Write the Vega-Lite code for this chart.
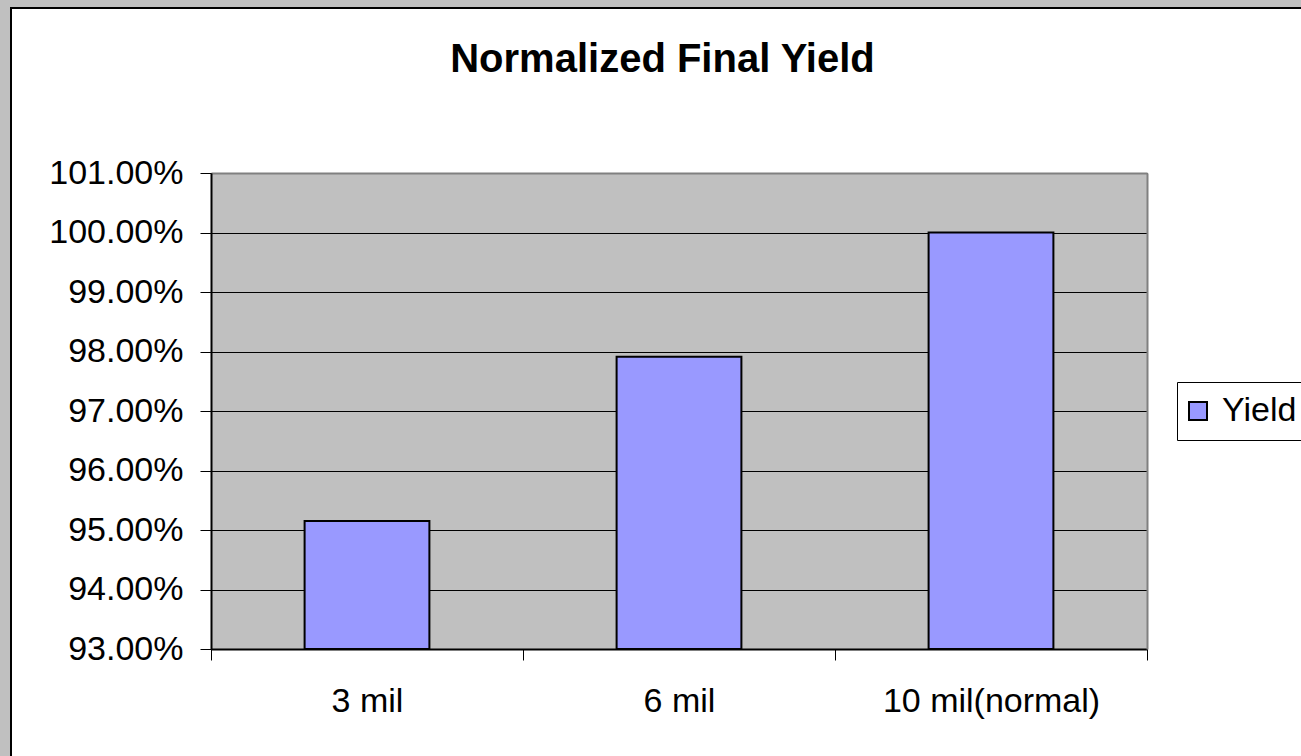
{
  "$schema": "https://vega.github.io/schema/vega-lite/v6.json",
  "width": 1303,
  "height": 760,
  "autosize": {"type": "none"},
  "padding": {"left": 11, "top": 8, "right": -13, "bottom": -12},
  "background": "#c0c0c0",
  "view": {"fill": "white", "stroke": "black", "strokeWidth": 2},
  "config": {"font": "Liberation Sans"},
  "title": {
    "text": "Normalized Final Yield",
    "font": "Liberation Sans",
    "fontSize": 40,
    "fontWeight": "bold",
    "color": "black",
    "anchor": "middle",
    "frame": "group",
    "offset": -72
  },
  "data": {
    "values": [
      {"size": "3 mil", "yield": 0.9515},
      {"size": "6 mil", "yield": 0.9791},
      {"size": "10 mil(normal)", "yield": 1.0}
    ]
  },
  "layer": [
    {
      "mark": {"type": "bar", "width": {"band": 0.4}, "stroke": "black", "strokeWidth": 2},
      "encoding": {
        "x": {
          "field": "size",
          "type": "nominal",
          "sort": null,
          "title": null,
          "scale": {"range": [200, 1136], "paddingInner": 0, "paddingOuter": 0},
          "axis": {
            "orient": "bottom",
            "offset": -119,
            "tickBand": "extent",
            "tickSize": 11,
            "tickColor": "black",
            "tickWidth": 1,
            "domainColor": "black",
            "domainWidth": 2,
            "labelAngle": 0,
            "labelFont": "Liberation Sans",
            "labelFontSize": 34,
            "labelColor": "black",
            "labelPadding": 24,
            "labelLimit": 0,
            "grid": false
          }
        },
        "y": {
          "field": "yield",
          "type": "quantitative",
          "title": null,
          "scale": {"domain": [0.93, 1.01], "range": [641, 165], "nice": false, "zero": false},
          "axis": {
            "orient": "left",
            "offset": -200,
            "values": [0.93, 0.94, 0.95, 0.96, 0.97, 0.98, 0.99, 1.0, 1.01],
            "format": ".2%",
            "tickSize": 11,
            "tickColor": "black",
            "tickWidth": 1,
            "domainColor": "black",
            "domainWidth": 2,
            "labelFont": "Liberation Sans",
            "labelFontSize": 34,
            "labelColor": "black",
            "labelPadding": 17,
            "labelLimit": 0,
            "grid": true,
            "gridColor": "black",
            "gridWidth": 1,
            "gridOpacity": 1
          }
        },
        "y2": {"datum": 0.93},
        "fill": {
          "datum": "Yield",
          "type": "nominal",
          "scale": {"range": ["#9999ff"]},
          "legend": {
            "title": null,
            "orient": "none",
            "legendX": 1166,
            "legendY": 374,
            "padding": 12,
            "strokeColor": "black",
            "fillColor": "white",
            "symbolType": "square",
            "symbolSize": 324,
            "symbolOffset": -8,
            "symbolStrokeColor": "black",
            "symbolStrokeWidth": 2,
            "symbolOpacity": 1,
            "labelFont": "Liberation Sans",
            "labelFontSize": 34,
            "labelColor": "black",
            "labelOffset": 7,
            "labelLimit": 0
          }
        }
      }
    },
    {
      "mark": {"type": "point", "opacity": 0},
      "encoding": {
        "x": {
          "field": "size",
          "type": "nominal",
          "sort": null,
          "title": null,
          "axis": {
            "orient": "top",
            "offset": -165,
            "tickBand": "center",
            "grid": true,
            "gridColor": "#c0c0c0",
            "gridWidth": 313,
            "gridOpacity": 1,
            "domainColor": "#808080",
            "domainWidth": 2,
            "ticks": false,
            "labels": false
          }
        },
        "y": {
          "field": "yield",
          "type": "quantitative",
          "title": null,
          "axis": {
            "orient": "right",
            "offset": -167,
            "grid": false,
            "domainColor": "#808080",
            "domainWidth": 2,
            "ticks": false,
            "labels": false
          }
        }
      }
    }
  ],
  "resolve": {"axis": {"x": "independent", "y": "independent"}}
}
